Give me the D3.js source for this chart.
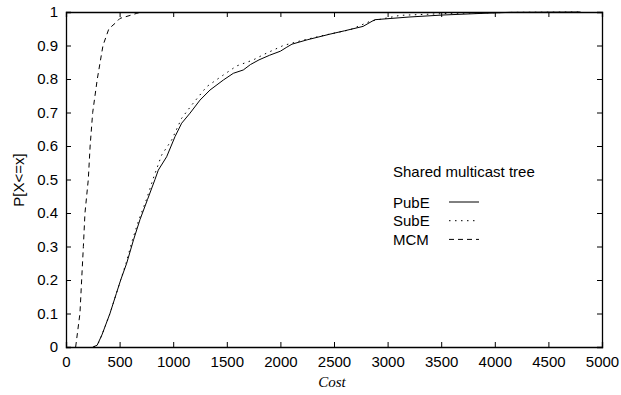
<!DOCTYPE html>
<html>
<head>
<meta charset="utf-8">
<script src="https://cdn.jsdelivr.net/npm/d3@7"></script>
<style>
  body { margin: 0; background: #fff; }
  svg { display: block; }
  text { font-family: "Liberation Sans", Arial, sans-serif; }
</style>
</head>
<body>
<svg></svg>
<script>
const width = 621
const height = 395

const margin = { top: 12, right: 19, bottom: 48, left: 66 }

// x ticks and y ticks
const xTicks = [0, 500, 1000, 1500, 2000, 2500, 3000, 3500, 4000, 4500, 5000]
const yTicks = [0, 0.1, 0.2, 0.3, 0.4, 0.5, 0.6, 0.7, 0.8, 0.9, 1]

// PubE
const pubeX = [250, 290, 335, 410, 470, 510, 566, 630, 690, 760, 830, 861, 939, 1017, 1079, 1157, 1250, 1343, 1468, 1561, 1654, 1720, 1800, 1900, 2000, 2060, 2108, 2250, 2463, 2600, 2771, 2880, 3200, 3517, 3890, 4142, 4800]
const pubeY = [0, 0.005, 0.036, 0.1, 0.16, 0.2, 0.25, 0.32, 0.38, 0.44, 0.5, 0.528, 0.568, 0.628, 0.668, 0.698, 0.737, 0.767, 0.797, 0.817, 0.827, 0.843, 0.857, 0.871, 0.883, 0.895, 0.904, 0.917, 0.934, 0.944, 0.957, 0.977, 0.985, 0.991, 0.996, 0.999, 1]

// SubE
const subeX = [260, 300, 340, 410, 510, 560, 620, 680, 750, 815, 892, 986, 1079, 1172, 1312, 1468, 1592, 1747, 1850, 2027, 2200, 2400, 2650, 2836, 3116, 3582, 4200, 4800]
const subeY = [0, 0.01, 0.04, 0.1, 0.2, 0.25, 0.32, 0.38, 0.44, 0.504, 0.573, 0.618, 0.683, 0.722, 0.777, 0.812, 0.839, 0.857, 0.874, 0.9, 0.915, 0.93, 0.947, 0.972, 0.99, 0.996, 0.999, 1]

// MCM
const mcmX = [90, 130, 146, 162, 177, 208, 225, 249, 292, 345, 400, 457, 504, 600, 660, 700]
const mcmY = [0, 0.1, 0.2, 0.3, 0.4, 0.5, 0.6, 0.7, 0.8, 0.9, 0.95, 0.966, 0.981, 0.99, 0.996, 1]

const seriesNames = ["PubE", "SubE", "MCM"]
const dashes = [null, "1.5,4.5", "5,4"]

let svg = d3.select("svg")
    .attr("width", width)
    .attr("height", height)

const w = width - margin.left - margin.right
const h = height - margin.top - margin.bottom

let g = svg.append("g")
    .attr("transform", "translate(" + margin.left + "," + margin.top + ")")

const xScale = d3.scaleLinear().domain([0, 5000]).range([0, w])
const yScale = d3.scaleLinear().domain([0, 1]).range([h, 0])

// bottom / top ticks, inward
g.append("g")
    .attr("transform", "translate(0," + h + ")")
    .call(d3.axisBottom(xScale).tickValues(xTicks).tickSize(-5).tickPadding(9).tickFormat(d3.format("d")))
g.append("g")
    .call(d3.axisTop(xScale).tickValues(xTicks).tickSize(-5).tickFormat(""))
g.append("g")
    .call(d3.axisLeft(yScale).tickValues(yTicks).tickSize(-5).tickPadding(8).tickFormat(d => d === 0 || d === 1 ? d : d3.format(".1f")(d)))
g.append("g")
    .attr("transform", "translate(" + w + ",0)")
    .call(d3.axisRight(yScale).tickValues(yTicks).tickSize(-5).tickFormat(""))

g.selectAll(".domain").attr("stroke", "#000").attr("stroke-width", 1.3)
g.selectAll(".tick line").attr("stroke", "#000")
g.selectAll(".tick text")
    .attr("fill", "#000")
    .style("font-size", "15px")
    .style("font-family", "Liberation Sans, Arial, sans-serif")

// lines
const line = d3.line()
    .x(d => xScale(d[0]))
    .y(d => yScale(d[1]))

const series = [
    d3.zip(pubeX, pubeY),
    d3.zip(subeX, subeY),
    d3.zip(mcmX, mcmY)
]

series.forEach(function (s, i) {
    g.append("path")
        .datum(s)
        .attr("d", line)
        .attr("fill", "none")
        .attr("stroke", "#000")
        .attr("stroke-width", 1)
        .attr("stroke-dasharray", dashes[i])
})

// legend
svg.append("text")
    .attr("x", 393)
    .attr("y", 177)
    .style("font-size", "15px")
    .text("Shared multicast tree")

seriesNames.forEach(function (name, i) {
    const y = 202 + i * 18.7
    svg.append("text")
        .attr("x", 393)
        .attr("y", y + 5.5)
        .style("font-size", "15px")
        .text(name)
    svg.append("line")
        .attr("x1", 449).attr("x2", 479)
        .attr("y1", y).attr("y2", y)
        .attr("stroke", "#000")
        .attr("stroke-width", 1)
        .attr("stroke-dasharray", dashes[i])
})

// axis labels
svg.append("text")
    .attr("transform", "translate(24,180) rotate(-90)")
    .attr("text-anchor", "middle")
    .style("font-size", "15px")
    .text("P[X<=x]")

svg.append("text")
    .attr("x", 332)
    .attr("y", 387)
    .attr("text-anchor", "middle")
    .style("font-family", "Liberation Serif, serif")
    .style("font-style", "italic")
    .style("font-size", "15px")
    .text("Cost")
</script>
</body>
</html>
